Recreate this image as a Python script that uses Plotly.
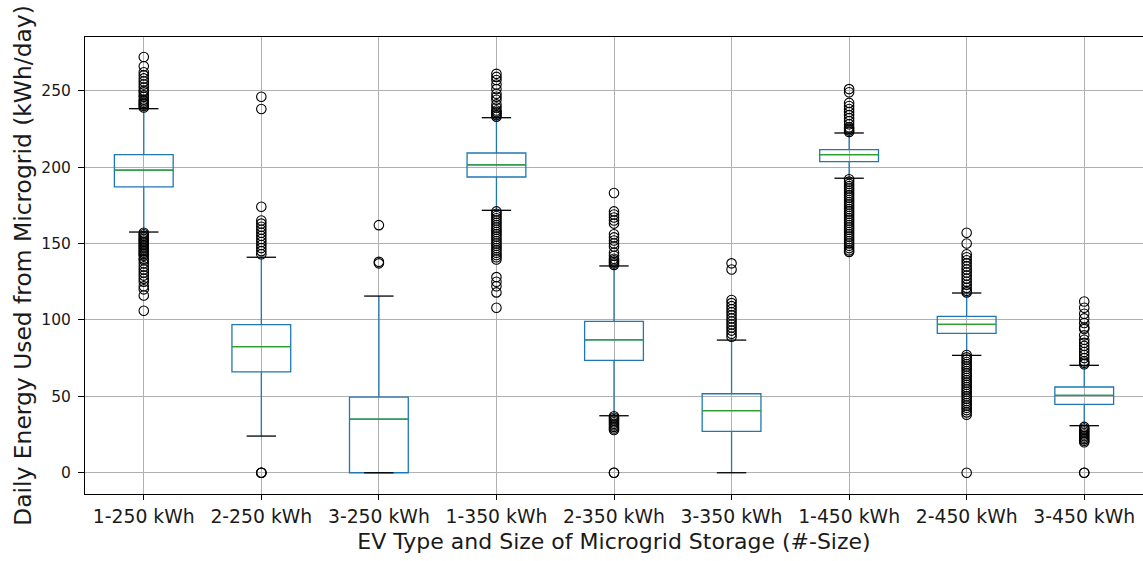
import plotly.graph_objects as go

categories = ["1-250 kWh", "2-250 kWh", "3-250 kWh", "1-350 kWh", "2-350 kWh",
              "3-350 kWh", "1-450 kWh", "2-450 kWh", "3-450 kWh"]
q1 = [187.0, 66.0, 0.0, 193.5, 73.5, 27.1, 203.5, 91.2, 44.8]
median = [198.0, 82.5, 35.1, 201.4, 87.0, 40.6, 208.1, 97.1, 50.6]
q3 = [208.2, 96.9, 49.5, 209.2, 99.1, 51.7, 211.4, 102.3, 56.1]
lower_whisker = [157.5, 24.0, 0.0, 171.7, 37.3, 0.0, 192.7, 76.8, 30.8]
upper_whisker = [238.2, 141.0, 115.6, 232.3, 135.3, 86.8, 222.3, 117.6, 70.3]

outliers = [
    [272, 266, 262, 260, 258, 256, 254, 252, 250, 249, 247, 246, 244, 243, 242, 241, 240, 239,
     157, 156, 155, 154, 153, 152, 151, 150, 149, 148, 147, 146, 145, 144, 143, 142, 140, 139,
     137, 135, 133, 131, 129, 127, 125, 122, 120, 116, 106],
    [246, 238, 174, 165, 163, 161, 159, 157, 155, 153, 151, 149, 147, 145, 143, 0, 0, 0],
    [162, 138, 137],
    [261, 259, 257, 254, 251, 248, 246, 244, 241, 239, 237, 236, 235, 234, 233,
     171, 169.5, 168, 166.5, 165, 163.5, 162, 160.5, 159, 157.5, 156, 154.5, 153, 151.5, 150,
     148.5, 147, 145.5, 144, 142.5, 141, 139.5, 128, 125, 122, 118, 108],
    [183, 171, 169, 167, 165, 163, 156, 154, 152, 150, 148, 144, 142, 140, 139, 138, 137, 136,
     37, 36, 35, 34, 33, 32, 31, 30, 29, 28, 0, 0],
    [137, 133, 113, 111, 109, 107, 105, 103, 101, 99, 97, 95, 93, 91, 89],
    [251, 249, 242, 240, 238, 236, 234, 232, 230, 228, 226, 225, 224, 223,
     192, 190.5, 189, 187.5, 186, 184.5, 183, 181.5, 180, 178.5, 177, 175.5, 174, 172.5, 171,
     169.5, 168, 166.5, 165, 163.5, 162, 160.5, 159, 157.5, 156, 154.5, 153, 151.5, 150,
     148.5, 147, 145.5, 144.5],
    [157, 150, 143, 141, 139, 137, 135, 133, 131, 129, 127, 125, 123, 121, 119, 118,
     77, 75.5, 74, 72.5, 71, 69.5, 68, 66.5, 65, 63.5, 62, 60.5, 59, 57.5, 56, 54.5, 53,
     51.5, 50, 48.5, 47, 45.5, 44, 42.5, 41, 39.5, 38, 0],
    [112, 108, 104, 101, 98, 95, 94, 90, 87, 85, 83, 81, 79, 77, 75, 73, 72, 71,
     30, 29, 28, 27, 26, 25, 24, 23, 22, 21, 20, 0, 0],
]

y_title = "Daily Energy Used from Microgrid (kWh/day)"
x_title = "EV Type and Size of Microgrid Storage (#-Size)"
y_ticks = [0, 50, 100, 150, 200, 250]

BLUE = "#1f77b4"
GREEN = "#2ca02c"
FONT = "DejaVu Sans"

pos = list(range(1, len(categories) + 1))
fig = go.Figure()

fig.add_trace(go.Box(
    x=pos, q1=q1, median=median, q3=q3,
    lowerfence=lower_whisker, upperfence=upper_whisker,
    width=0.5, whiskerwidth=0, boxpoints=False,
    line=dict(color=BLUE, width=1.3), fillcolor="rgba(0,0,0,0)",
    showlegend=False, hoverinfo="skip",
))

# medians (green)
mx, my = [], []
for p, m in zip(pos, median):
    mx += [p - 0.25, p + 0.25, None]
    my += [m, m, None]
fig.add_trace(go.Scatter(x=mx, y=my, mode="lines", line=dict(color=GREEN, width=1.3),
                         showlegend=False, hoverinfo="skip"))

# whisker caps (black)
cx, cy = [], []
for p, lo, hi in zip(pos, lower_whisker, upper_whisker):
    cx += [p - 0.125, p + 0.125, None, p - 0.125, p + 0.125, None]
    cy += [lo, lo, None, hi, hi, None]
fig.add_trace(go.Scatter(x=cx, y=cy, mode="lines", line=dict(color="black", width=1.3),
                         showlegend=False, hoverinfo="skip"))

# fliers
fx, fy = [], []
for p, vals in zip(pos, outliers):
    fx += [p] * len(vals)
    fy += vals
fig.add_trace(go.Scatter(x=fx, y=fy, mode="markers",
                         marker=dict(symbol="circle-open", size=9.5, color="black",
                                     line=dict(width=1.1)),
                         showlegend=False, hoverinfo="skip"))

fig.update_layout(
    width=1143, height=561,
    margin=dict(l=85, r=0, t=37, b=67),
    paper_bgcolor="white", plot_bgcolor="white",
    font=dict(family=FONT, color="black", size=16),
    xaxis=dict(range=[0.5, 9.5], tickmode="array", tickvals=pos, ticktext=categories,
               showgrid=True, gridcolor="#b0b0b0", gridwidth=1,
               showline=True, linecolor="black", linewidth=1, mirror=True,
               ticks="outside", ticklen=5, tickcolor="black", zeroline=False,
               tickfont=dict(size=18.8, color="#1a1a1a"),
               title=dict(text=x_title, font=dict(size=22, color="#1a1a1a"), standoff=8)),
    yaxis=dict(range=[-13.9, 285.1], tickmode="array", tickvals=y_ticks,
               showgrid=True, gridcolor="#b0b0b0", gridwidth=1,
               showline=True, linecolor="black", linewidth=1, mirror=False,
               ticks="outside", ticklen=6, tickcolor="black", zeroline=False,
               ticklabelstandoff=4,
               tickfont=dict(size=15.5, color="#1a1a1a"),
               title=dict(text=y_title, font=dict(size=23.4, color="#1a1a1a"), standoff=3)),
)

fig.write_html("out.html")
